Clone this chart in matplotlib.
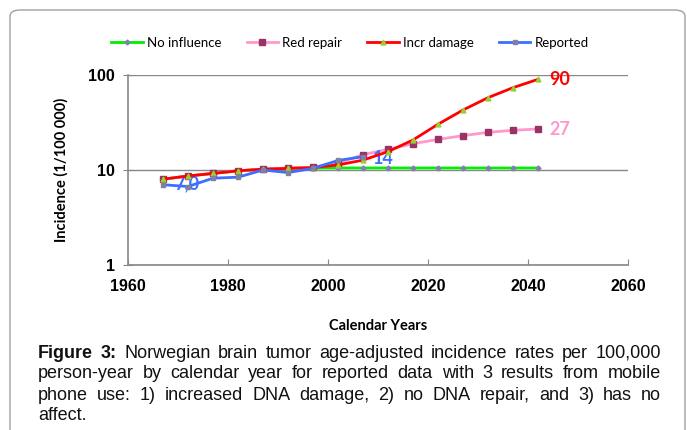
import numpy as np
import matplotlib.pyplot as plt
from matplotlib.patches import FancyBboxPatch

W, H = 687, 430

years = [1967, 1972, 1977, 1982, 1987, 1992, 1997, 2002, 2007, 2012,
         2017, 2022, 2027, 2032, 2037, 2042]
no_influence = [8.0, 8.65, 9.2, 9.8, 10.2, 10.4, 10.5, 10.5, 10.5, 10.5,
                10.5, 10.5, 10.5, 10.5, 10.5, 10.5]
red_repair = [8.0, 8.65, 9.2, 9.8, 10.2, 10.5, 10.7, 11.8, 14.5, 16.5,
              18.9, 21.0, 23.0, 24.9, 26.2, 27.0]
incr_damage = [8.0, 8.65, 9.2, 9.8, 10.2, 10.4, 10.6, 11.3, 12.7, 15.6,
               20.7, 30.3, 42.8, 57.7, 73.6, 90.0]
rep_years = [1967, 1972, 1977, 1982, 1987, 1992, 1997, 2002, 2007]
reported = [7.0, 6.7, 8.2, 8.4, 10.0, 9.4, 10.4, 12.6, 13.8]

fig = plt.figure(figsize=(W / 100, H / 100), dpi=100)
fig.patch.set_facecolor("white")

def fx(px):
    return px / W

def fy(py):
    return 1 - py / H

# rounded frame round the figure
frame = FancyBboxPatch((fx(10), fy(470)), fx(675), 460 / H,
                       boxstyle="round,pad=0,rounding_size=0.015",
                       transform=fig.transFigure, fc="none", ec="#a0a0a0", lw=1)
fig.patches.append(frame)

ax = fig.add_axes([fx(128), fy(265), fx(500), 190 / H])
ax.set_yscale("log")
ax.set_xlim(1960, 2060)
ax.set_ylim(1, 100)

ax.plot(years, no_influence, color="#00ee00", lw=2, marker="D", ms=2.5,
        mfc="#8080b0", mec="#8080b0", label="No influence", zorder=2)
ax.plot(years, red_repair, color="#ff99cc", lw=2, marker="s", ms=4,
        mfc="#993366", mec="#993366", label="Red repair", zorder=3)
ax.plot(years, incr_damage, color="#ff0000", lw=2, marker="^", ms=3.5,
        mfc="#9acd32", mec="#9acd32", label="Incr damage", zorder=4)
ax.plot(rep_years, reported, color="#3d6eff", lw=2, marker="s", ms=2.5,
        mfc="#8080a0", mec="#8080a0", label="Reported", zorder=5)

lab = dict(family="Lato", fontsize=13, fontweight="bold")
ax.annotate("90", (years[-1], incr_damage[-1]), xytext=(8, 0),
            textcoords="offset points", color="#ff0000", va="center", **lab)
ax.annotate("27", (years[-1], red_repair[-1]), xytext=(8, 0),
            textcoords="offset points", color="#ff99cc", va="center", **lab)
ax.annotate("7,0", (rep_years[1], reported[1]), xytext=(-1, 2),
            textcoords="offset points", color="#3d6eff", va="center",
            ha="center", **lab)
ax.annotate("14", (rep_years[-1], reported[-1]), xytext=(7, -1),
            textcoords="offset points", color="#3d6eff", va="center", **lab)

ax.set_xticks([1960, 1980, 2000, 2020, 2040, 2060])
ax.set_yticks([1, 10, 100])
ax.set_yticklabels(["1", "10", "100"])
ax.minorticks_off()
ax.tick_params(axis="x", direction="in", length=4, color="#888888", pad=10)
ax.tick_params(axis="y", direction="inout", length=7, color="#888888", pad=6)
for t in ax.get_xticklabels() + ax.get_yticklabels():
    t.set_family("Liberation Sans")
    t.set_fontweight("bold")
    t.set_fontsize(11.5)
ax.grid(axis="y", color="#888888", lw=1)
ax.set_axisbelow(True)
for s in ["top", "right"]:
    ax.spines[s].set_visible(False)
for s in ["left", "bottom"]:
    ax.spines[s].set_color("#888888")
    ax.spines[s].set_linewidth(1.2)

ax.set_ylabel("Incidence (1/100 000)", family="Lato", fontweight="bold",
              fontsize=10.5, labelpad=14)
ax.set_xlabel("Calendar Years", family="Lato", fontweight="bold",
              fontsize=10.5, labelpad=18)

fig.legend(loc="center", bbox_to_anchor=(fx(350), fy(43)), ncol=4,
           frameon=False, prop=dict(family="Lato", size=9.5),
           handlelength=2.4, handletextpad=0.3, columnspacing=1.9)

# justified caption
lines = [
    ["Figure 3:", "Norwegian brain tumor age-adjusted incidence rates per 100,000"],
    ["person-year by calendar year for reported data with 3 results from mobile"],
    ["phone use: 1) increased DNA damage, 2) no DNA repair, and 3) has no"],
    ["affect."],
]
left, right = 38, 661
ys = [353, 374, 395, 415]
renderer = fig.canvas.get_renderer()
for i, parts in enumerate(lines):
    words = []
    if len(parts) == 2:
        words += [(w, "bold") for w in parts[0].split()]
        words += [(w, "normal") for w in parts[1].split()]
    else:
        words += [(w, "normal") for w in parts[0].split()]
    texts = [fig.text(0, fy(ys[i]), w, family="Liberation Sans",
                      fontweight=fw, fontsize=13, va="center", color="#111111")
             for w, fw in words]
    widths = [t.get_window_extent(renderer).width for t in texts]
    if i < len(lines) - 1 and len(texts) > 1:
        gap = (right - left - sum(widths)) / (len(texts) - 1)
    else:
        gap = 4.3
    x = left
    for t, w in zip(texts, widths):
        t.set_x(fx(x))
        x += w + gap

fig.savefig("out.png", dpi=100)
